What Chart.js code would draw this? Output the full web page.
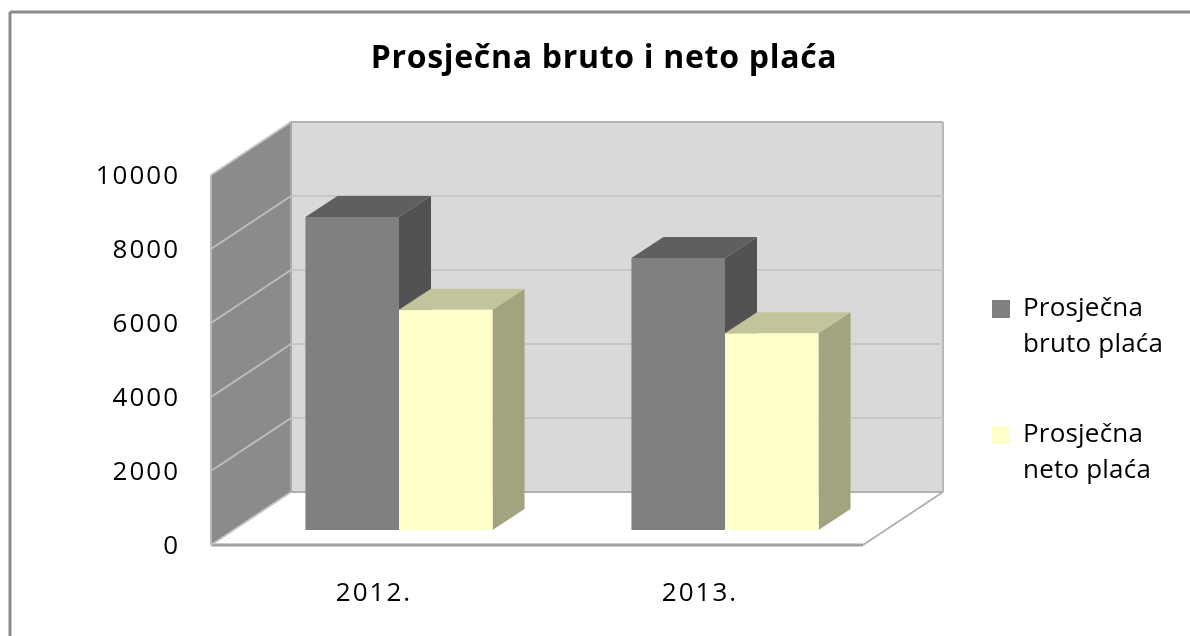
<!DOCTYPE html>
<html>
<head>
<meta charset="utf-8">
<style>
  html, body { margin: 0; padding: 0; background: #fff; overflow: hidden; }
  canvas { display: block; }
</style>
<script src="https://cdn.jsdelivr.net/npm/chart.js@4"></script>
</head>
<body>
<canvas id="salaryChart" width="1190" height="636"></canvas>
<script>
const chartTitle = "Prosječna bruto i neto plaća";
const categories = ["2012.", "2013."];
const brutoLabel = ["Prosječna", "bruto plaća"];
const netoLabel = ["Prosječna", "neto plaća"];
const brutoValues = [8460, 7350];
const netoValues = [5950, 5320];

const FONT = "'Open Sans', sans-serif";

// 3D look: the offsets of the back wall and of the bars
const WALL_DX = 80, WALL_DY = 53;
const BAR_DX = 25, BAR_DY = 15;
const DEPTH_DX = 32, DEPTH_DY = 21;

function poly(ctx, points, fill, stroke, lineWidth) {
  ctx.beginPath();
  points.forEach((p, i) => (i ? ctx.lineTo(p[0], p[1]) : ctx.moveTo(p[0], p[1])));
  ctx.closePath();
  if (fill) {
    ctx.fillStyle = fill;
    ctx.fill();
  }
  if (stroke) {
    ctx.strokeStyle = stroke;
    ctx.lineWidth = lineWidth || 1;
    ctx.stroke();
  }
}

function line(ctx, x1, y1, x2, y2, color, width) {
  ctx.beginPath();
  ctx.moveTo(x1, y1);
  ctx.lineTo(x2, y2);
  ctx.strokeStyle = color;
  ctx.lineWidth = width;
  ctx.stroke();
}

// the reference text is wider than any installed font, so space it out
function withSpacing(box, ctx, spacing) {
  const draw = box.draw;
  box.draw = function (area) {
    ctx.letterSpacing = spacing;
    draw.call(this, area);
    ctx.letterSpacing = "2px";
  };
}

const walls3d = {
  id: "walls3d",
  start(chart) {
    chart.$patched = false;
  },
  beforeLayout(chart) {
    if (chart.$patched) return;
    chart.$patched = true;
    const legend = chart.legend;
    const fit = legend.fit;
    legend.fit = function () {
      fit.call(this);
      this.width = 327;
    };
    withSpacing(legend, chart.ctx, "0.2px");
    withSpacing(chart.titleBlock, chart.ctx, "0.7px");
  },
  afterLayout(chart) {
    chart.legend.left = 938;
    chart.legend.right = 1300;
    chart.legend.top = 242;
  },
  beforeDraw(chart) {
    chart.ctx.letterSpacing = "2px";
  },
  beforeDatasetsDraw(chart) {
    const ctx = chart.ctx;
    const { left, right, top, bottom } = chart.chartArea;
    const y = chart.scales.y;

    // frame of the chart, only top and left are inside the picture
    line(ctx, 10, 12, 1190, 12, "#8c8c8c", 3);
    line(ctx, 10, 12, 10, 636, "#8c8c8c", 3);

    // floor
    poly(ctx, [[left, bottom], [right, bottom], [right + WALL_DX, bottom - WALL_DY], [left + WALL_DX, bottom - WALL_DY]], "#ffffff");
    line(ctx, left, bottom, right, bottom, "#a0a0a0", 3);
    line(ctx, right, bottom, right + WALL_DX, bottom - WALL_DY, "#b0b0b0", 2);

    // back wall
    poly(ctx, [[left + WALL_DX, top - WALL_DY], [right + WALL_DX, top - WALL_DY], [right + WALL_DX, bottom - WALL_DY], [left + WALL_DX, bottom - WALL_DY]], "#d9d9d9");
    line(ctx, left + WALL_DX, top - WALL_DY, right + WALL_DX, top - WALL_DY, "#b4b4b4", 2);
    line(ctx, right + WALL_DX, top - WALL_DY, right + WALL_DX, bottom - WALL_DY, "#b8b8b8", 2);
    line(ctx, left + WALL_DX, bottom - WALL_DY, right + WALL_DX, bottom - WALL_DY, "#b0b0b0", 2);

    // left wall
    poly(ctx, [[left, top], [left + WALL_DX, top - WALL_DY], [left + WALL_DX, bottom - WALL_DY], [left, bottom]], "#8b8b8b");
    line(ctx, left, top, left, bottom, "#b8b8b8", 2);
    line(ctx, left, top, left + WALL_DX, top - WALL_DY, "#c4c4c4", 2);
    line(ctx, left + WALL_DX, top - WALL_DY, left + WALL_DX, bottom - WALL_DY, "#a8a8a8", 2);
    line(ctx, left, bottom, left + WALL_DX, bottom - WALL_DY, "#c4c4c4", 2);

    // grid lines, fed by the value axis
    y.ticks.forEach((t) => {
      if (t.value === y.min || t.value === y.max) return;
      const py = y.getPixelForValue(t.value);
      line(ctx, left, py, left + WALL_DX, py - WALL_DY, "#bdbdbd", 2);
      line(ctx, left + WALL_DX, py - WALL_DY, right + WALL_DX, py - WALL_DY, "#c6c6c6", 2);
    });

    // the bars stand inside the box, the library draws their front faces
    ctx.save();
    ctx.translate(BAR_DX, BAR_DY * -1);
    const faces = [
      { top: "#5f5f5f", side: "#525252" },
      { top: "#c4c49c", side: "#a3a380" },
    ];
    chart.data.datasets.forEach((ds, di) => {
      chart.getDatasetMeta(di).data.forEach((bar) => {
        const l = bar.x - bar.width / 2;
        const r = bar.x + bar.width / 2;
        poly(ctx, [[r, bar.y], [r + DEPTH_DX, bar.y - DEPTH_DY], [r + DEPTH_DX, bar.base - DEPTH_DY], [r, bar.base]], faces[di].side);
        poly(ctx, [[l, bar.y], [l + DEPTH_DX, bar.y - DEPTH_DY], [r + DEPTH_DX, bar.y - DEPTH_DY], [r, bar.y]], faces[di].top);
      });
    });
  },
  afterDatasetsDraw(chart) {
    chart.ctx.restore();
  },
};

new Chart(document.getElementById("salaryChart"), {
  type: "bar",
  data: {
    labels: categories,
    datasets: [
      { label: brutoLabel, data: brutoValues, backgroundColor: "#808080" },
      { label: netoLabel, data: netoValues, backgroundColor: "#ffffcc" },
    ],
  },
  options: {
    responsive: false,
    animation: false,
    categoryPercentage: 0.574,
    barPercentage: 1,
    clip: false,
    layout: { autoPadding: false, padding: { left: 18 } },
    scales: {
      x: {
        grid: { display: false },
        border: { display: false },
        ticks: { color: "#000", padding: 25, font: { family: FONT, size: 26 } },
        afterFit(scale) {
          scale.height = 91;
        },
      },
      y: {
        min: 0,
        max: 10000,
        grid: { display: false, drawTicks: false },
        border: { display: false },
        ticks: {
          stepSize: 2000,
          color: "#000",
          padding: 31,
          labelOffset: 2,
          font: { family: FONT, size: 26 },
          callback: (v) => String(v),
        },
        afterFit(scale) {
          scale.width = 193;
        },
      },
    },
    plugins: {
      tooltip: { enabled: false },
      title: {
        display: true,
        text: chartTitle,
        color: "#000",
        font: { family: FONT, size: 32, weight: "bold", lineHeight: 1.2 },
        padding: { top: 40, bottom: 96.6 },
      },
      legend: {
        position: "right",
        align: "start",
        labels: {
          color: "#000",
          boxWidth: 18,
          boxHeight: 18,
          padding: 54,
          font: { family: FONT, size: 26, lineHeight: 1.385 },
        },
      },
    },
  },
  plugins: [walls3d],
});
</script>
</body>
</html>
